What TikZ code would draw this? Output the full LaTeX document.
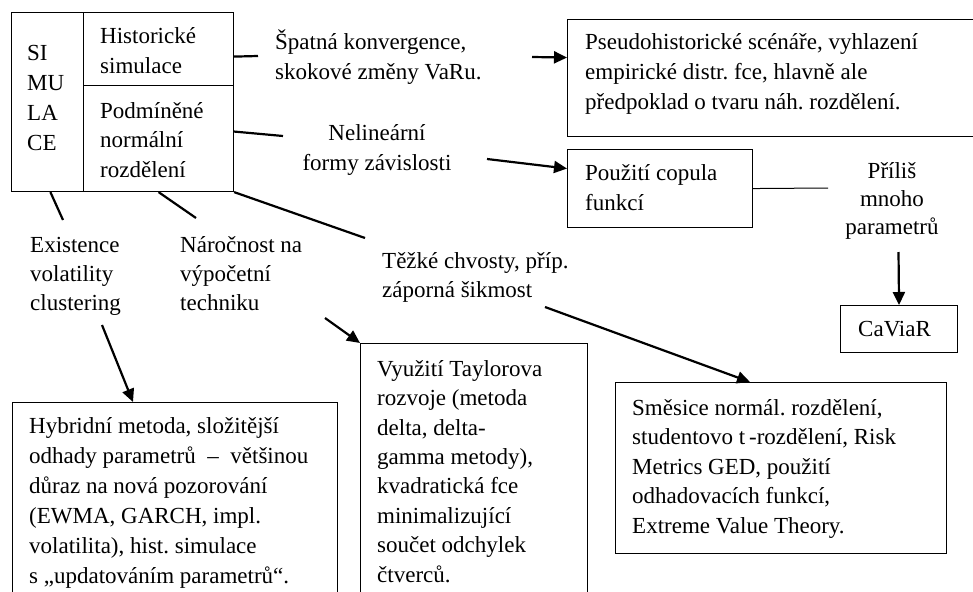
\documentclass[tikz,border=0pt]{standalone}
\usepackage{fontspec}
\setmainfont{Liberation Serif}
\usetikzlibrary{arrows.meta}
\frenchspacing
\begin{document}
\begin{tikzpicture}[x=1pt,y=-1pt,
  box/.style={draw, line width=1.1pt, inner sep=0pt, anchor=north west},
  txt/.style={inner sep=0pt, align=left, anchor=base west, font=\fontsize{23}{29.5}\selectfont\frenchspacing},
  ctxt/.style={txt, align=center, anchor=base},
  conn/.style={line width=2.2pt},
  arr/.style={conn, -{Triangle[length=13pt,width=12pt]}},
  thinln/.style={line width=1pt}]
\useasboundingbox (0,0) rectangle (973,591);
\clip (0,0) rectangle (973,591);
% boxes
\node[box, minimum width=72.3pt, minimum height=178.7pt] (simbox) at (10.7,12.3) {};
\node[box, minimum width=150pt, minimum height=72.7pt] (histbox) at (83,12.3) {};
\node[box, minimum width=150pt, minimum height=106pt] (podmbox) at (83,85) {};
\node[box, minimum width=405.5pt, minimum height=117pt] (pseudo) at (567,19) {};
\node[box, minimum width=185pt, minimum height=78pt] (copula) at (567,149) {};
\node[box, minimum width=117pt, minimum height=47pt] (caviar) at (840,305) {};
\node[box, minimum width=325pt, minimum height=260pt] (hybrid) at (12,402) {};
\node[box, minimum width=227pt, minimum height=300pt] (taylor) at (360,343) {};
\node[box, minimum width=331pt, minimum height=171pt] (smesice) at (615,382) {};
% texts (positioned at the baseline of their last line)
\node[txt, font=\fontsize{23}{30}\selectfont\frenchspacing] (tsim) at (27,150) {SI\\MU\\LA\\CE};
\node[txt, font=\fontsize{23}{30}\selectfont\frenchspacing] (thist) at (100,74) {Historické\\simulace};
\node[txt] (tpodm) at (100,177) {Podmíněné\\normální\\rozdělení};
\node[txt, font=\fontsize{23}{30}\selectfont\frenchspacing] (tspat) at (275,80) {Špatná konvergence,\\skokové změny VaRu.};
\node[txt, font=\fontsize{23}{30}\selectfont\frenchspacing] (tpseudo) at (585,110) {Pseudohistorické scénáře, vyhlazení\\empirické distr. fce, hlavně ale\\předpoklad o tvaru náh. rozdělení.};
\node[ctxt, font=\fontsize{23}{30}\selectfont\frenchspacing] (tnelin) at (377,170) {Nelineární\\formy závislosti};
\node[txt, font=\fontsize{23}{30}\selectfont\frenchspacing] (tcopula) at (585,210) {Použití copula\\funkcí};
\node[ctxt, font=\fontsize{23}{28}\selectfont\frenchspacing] (tprilis) at (892,234) {Příliš\\mnoho\\parametrů};
\node[txt] (tcaviar) at (858,336) {CaViaR};
\node[txt, font=\fontsize{23}{29}\selectfont\frenchspacing] (texist) at (30,310) {Existence\\volatility\\clustering};
\node[txt, font=\fontsize{23}{29}\selectfont\frenchspacing] (tnaroc) at (180,310) {Náročnost na\\výpočetní\\techniku};
\node[txt, font=\fontsize{23}{29}\selectfont\frenchspacing] (ttezke) at (382,297) {Těžké chvosty, příp.\\záporná šikmost};
\node[txt, font=\fontsize{23}{30}\selectfont\frenchspacing] (thybrid) at (29,583) {Hybridní metoda, složitější\\odhady parametrů \ – \ většinou\\důraz na nová pozorování\\(EWMA, GARCH, impl.\\volatilita), hist. simulace\\s „updatováním parametrů“.};
\node[txt, font=\fontsize{23}{29.4}\selectfont\frenchspacing] (ttaylor) at (377,582) {Využití Taylorova\\rozvoje (metoda\\delta, delta-\\gamma metody),\\kvadratická fce\\minimalizující\\součet odchylek\\čtverců.};
\node[txt] (tsmesice) at (632,533) {Směsice normál. rozdělení,\\studentovo t\,-rozdělení, Risk\\Metrics GED, použití\\odhadovacích funkcí,\\Extreme Value Theory.};
% free ends of connectors
\coordinate (e1) at (258,56);
\coordinate (s2) at (532,57);
\coordinate (e3) at (283,136);
\coordinate (s4) at (487,159);
\coordinate (e5) at (828,188);
\coordinate (s6) at (898.5,252);
\coordinate (e7) at (63,220);
\coordinate (e8) at (196,218);
\coordinate (e9) at (365,238);
\coordinate (s10) at (102,325);
\coordinate (s11) at (325,318);
\coordinate (s12) at (545,307);
% connectors
\draw[conn] ([yshift=-7.4pt]histbox.east) -- (e1);
\draw[arr] (s2) -- ([yshift=20.5pt]pseudo.west);
\draw[conn] ([yshift=7pt]podmbox.east) -- (e3);
\draw[arr] (s4) -- ([yshift=20pt]copula.west);
\draw[thinln] (copula.east) -- (e5);
\draw[arr] (s6) -- (caviar.north);
\draw[conn] ([xshift=3pt]simbox.south) -- (e7);
\draw[conn] (podmbox.south) -- (e8);
\draw[conn] (podmbox.south east) -- (e9);
\draw[arr] (s10) -- ([xshift=121pt]hybrid.north west);
\draw[arr] (s11) -- (taylor.north west);
\draw[arr] (s12) -- ([xshift=135pt]smesice.north west);
\end{tikzpicture}
\end{document}
